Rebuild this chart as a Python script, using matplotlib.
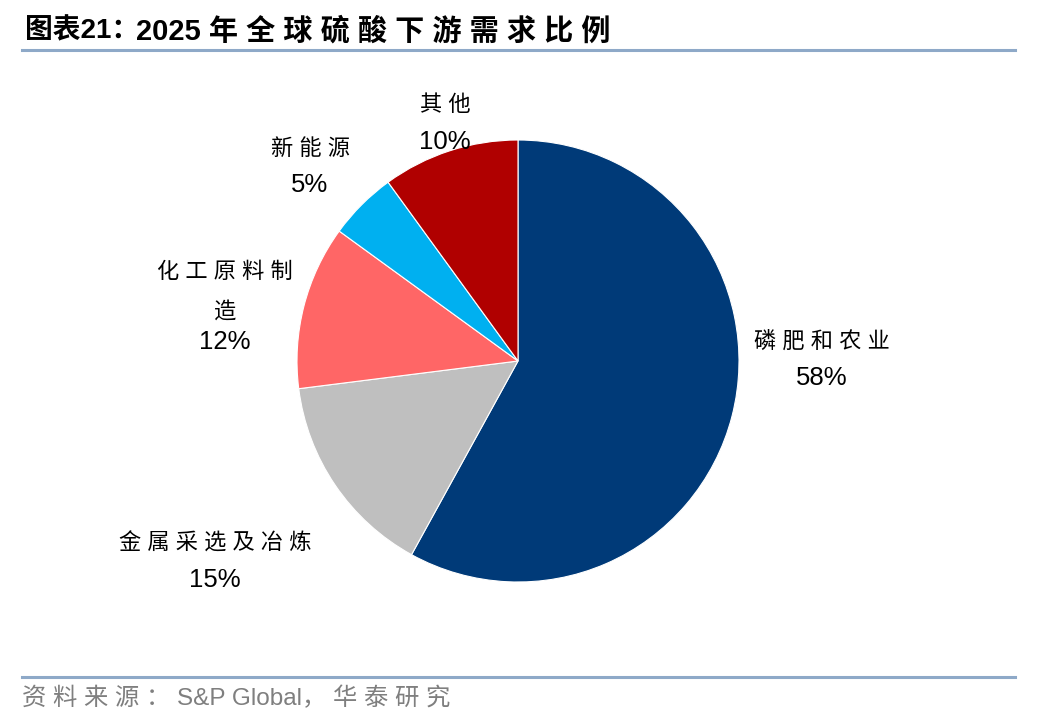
import matplotlib
matplotlib.use("Agg")
import matplotlib.pyplot as plt
from matplotlib.lines import Line2D

categories = ["磷 肥 和 农 业", "金 属 采 选 及 冶 炼", "化 工 原 料 制\n造", "新 能 源", "其 他"]
values = [58, 15, 12, 5, 10]
colors = ["#003A78", "#BFBFBF", "#FF6666", "#00B0F0", "#B00000"]
# percent-label anchor (in pie-radius units) for each slice
label_pos = [(1.376, -0.077), (-1.371, -0.991), (-1.326, 0.086), (-0.941, 0.796), (-0.330, 0.991)]

title_a = "图表21："
title_b = "2025 年 全 球 硫 酸 下 游 需 求 比 例"
source = "资 料 来 源 ： S&P Global， 华 泰 研 究"

W, H = 1048, 728
fig = plt.figure(figsize=(W / 100, H / 100), dpi=100)
fam = ["Liberation Sans", "Noto Sans CJK SC"]

cx, cy, r = 518, 361, 221
ax = fig.add_axes([(cx - r) / W, (H - cy - r) / H, 2 * r / W, 2 * r / H])
ax.pie(values, colors=colors, startangle=90, counterclock=False, radius=1,
       wedgeprops=dict(edgecolor="white", linewidth=0.8))
ax.set_xlim(-1, 1)
ax.set_ylim(-1, 1)
ax.set_aspect("equal")
ax.axis("off")

for cat, v, (lx, ly) in zip(categories, values, label_pos):
    n = cat.count("\n") + 1
    ax.text(lx, ly, f"{v}%", ha="center", va="center", fontsize=18.5,
            family=fam, color="black", clip_on=False)
    ax.annotate(cat, xy=(lx, ly), xytext=(0, 36 + (n - 1) * 14),
                textcoords="offset pixels", ha="center", va="center",
                fontsize=16, family=fam, color="black", linespacing=2.15,
                annotation_clip=False)

# title
fig.text(25 / W, 1 - 31 / H, title_a, ha="left", va="center", fontsize=20,
         fontweight="bold", family=fam, color="black")
fig.text(136 / W, 1 - 31 / H, title_b, ha="left", va="center", fontsize=21,
         fontweight="bold", family=fam, color="black")
fig.add_artist(Line2D([22 / W, 1015 / W], [1 - 50 / H, 1 - 50 / H],
                      color="#8EA9C8", linewidth=2.2, transform=fig.transFigure))
# footer
fig.add_artist(Line2D([22 / W, 1015 / W], [1 - 677 / H, 1 - 677 / H],
                      color="#8EA9C8", linewidth=2.2, transform=fig.transFigure))
fig.text(22 / W, 1 - 698 / H, source, ha="left",
         va="center", fontsize=17.5, family=fam, color="#7F7F7F")

fig.savefig("out.png", dpi=100)
